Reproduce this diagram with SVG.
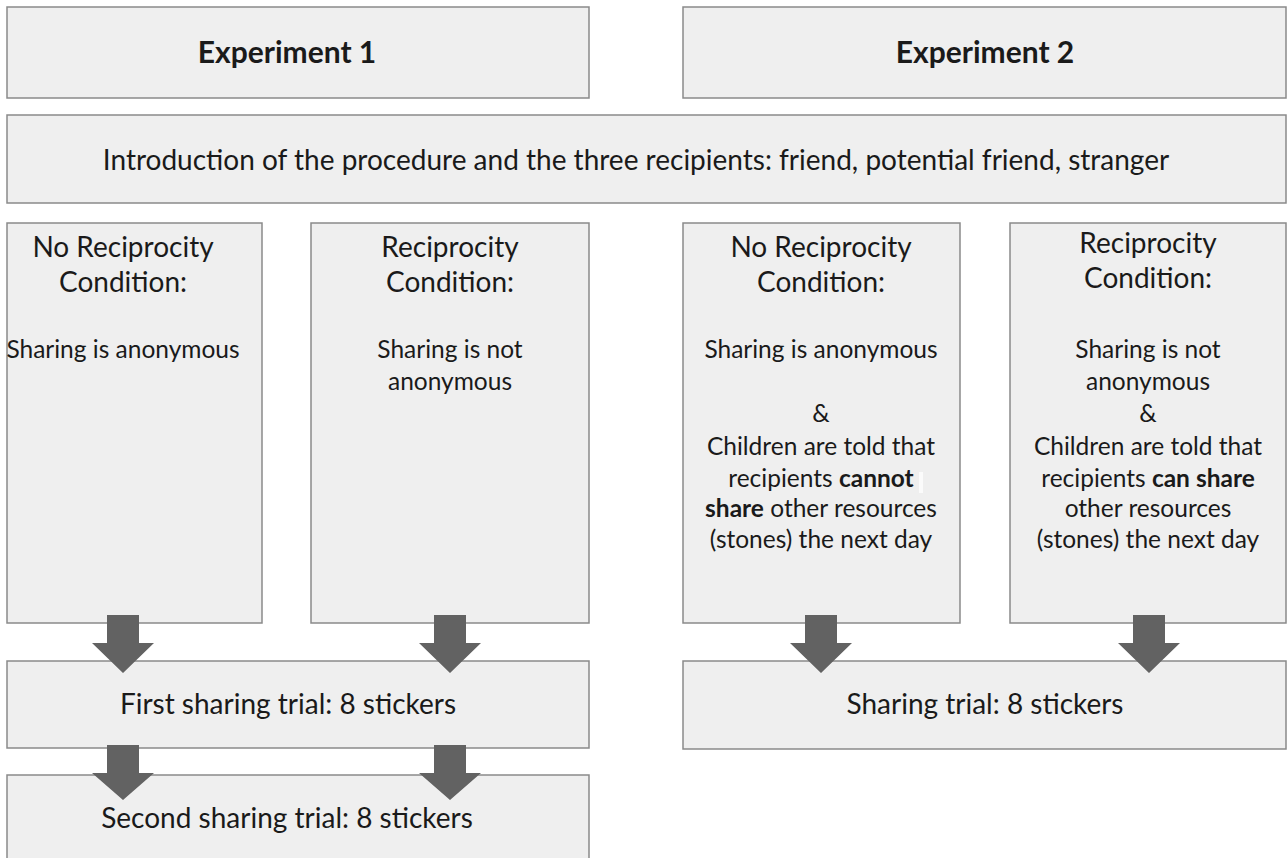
<svg xmlns="http://www.w3.org/2000/svg" width="1287" height="858" viewBox="0 0 1287 858">
<style>
.box{fill:#efefef;stroke:#8a8a8a;stroke-width:1.5}
.t{font-family:Lato,"Open Sans","Liberation Sans",sans-serif;font-size:28px;fill:#1a1a1a;text-anchor:middle}
.s{font-size:24.5px}
.h{font-weight:bold;font-size:30px}
.b{font-weight:bold}
.arrow{fill:#626262}
</style>
<rect width="1287" height="858" fill="#ffffff"/>
<g id="exp1"><rect class="box" x="7" y="7" width="582" height="91"/><text class="t h" x="287" y="63">Experiment 1</text></g>
<g id="exp2"><rect class="box" x="683" y="7" width="603" height="91"/><text class="t h" x="985" y="63">Experiment 2</text></g>
<g id="intro"><rect class="box" x="7" y="115" width="1279" height="88"/><text class="t" x="636" y="170">Introduction of the procedure and the three recipients: friend, potential friend, stranger</text></g>
<g id="nr1"><rect class="box" x="7" y="223" width="255" height="400"/>
<text class="t" x="123" y="257">No Reciprocity</text><text class="t" x="123" y="292">Condition:</text>
<text class="t s" x="123" y="358">Sharing is anonymous</text></g>
<g id="r1"><rect class="box" x="311" y="223" width="278" height="400"/>
<text class="t" x="450" y="257">Reciprocity</text><text class="t" x="450" y="292">Condition:</text>
<text class="t s" x="450" y="358">Sharing is not</text><text class="t s" x="450" y="390">anonymous</text></g>
<g id="nr2"><rect class="box" x="683" y="223" width="277" height="400"/>
<text class="t" x="821" y="257">No Reciprocity</text><text class="t" x="821" y="292">Condition:</text>
<text class="t s" x="821" y="358">Sharing is anonymous</text>
<text class="t s" x="821" y="422">&amp;</text>
<text class="t s" x="821" y="455">Children are told that</text>
<text class="t s" x="821" y="487">recipients <tspan class="b">cannot</tspan></text>
<rect x="919" y="472" width="4" height="21" fill="#fbfbfb"/>
<text class="t s" x="821" y="517"><tspan class="b">share</tspan> other resources</text>
<text class="t s" x="821" y="548">(stones) the next day</text></g>
<g id="r2"><rect class="box" x="1010" y="223" width="276" height="400"/>
<text class="t" x="1148" y="253">Reciprocity</text><text class="t" x="1148" y="288">Condition:</text>
<text class="t s" x="1148" y="358">Sharing is not</text><text class="t s" x="1148" y="390">anonymous</text>
<text class="t s" x="1148" y="422">&amp;</text>
<text class="t s" x="1148" y="455">Children are told that</text>
<text class="t s" x="1148" y="487">recipients <tspan class="b">can share</tspan></text>
<text class="t s" x="1148" y="517">other resources</text>
<text class="t s" x="1148" y="548">(stones) the next day</text></g>
<g id="first"><rect class="box" x="7" y="661" width="582" height="87"/><text class="t" x="288" y="714">First sharing trial: 8 stickers</text></g>
<g id="second"><rect class="box" x="7" y="775" width="582" height="90"/><text class="t" x="287" y="828">Second sharing trial: 8 stickers</text></g>
<g id="sharing"><rect class="box" x="683" y="661" width="603" height="88"/><text class="t" x="985" y="714">Sharing trial: 8 stickers</text></g>
<g id="connectors" class="arrow">
<polygon points="107,615 139,615 139,643 154,643 123,673 92,643 107,643"/>
<polygon points="434,615 466,615 466,643 481,643 450,673 419,643 434,643"/>
<polygon points="107,745 139,745 139,773 154,773 123,800 92,773 107,773"/>
<polygon points="434,745 466,745 466,773 481,773 450,800 419,773 434,773"/>
<polygon points="805,615 837,615 837,643 852,643 821,673 790,643 805,643"/>
<polygon points="1133,615 1165,615 1165,643 1180,643 1149,673 1118,643 1133,643"/>
</g>
</svg>
